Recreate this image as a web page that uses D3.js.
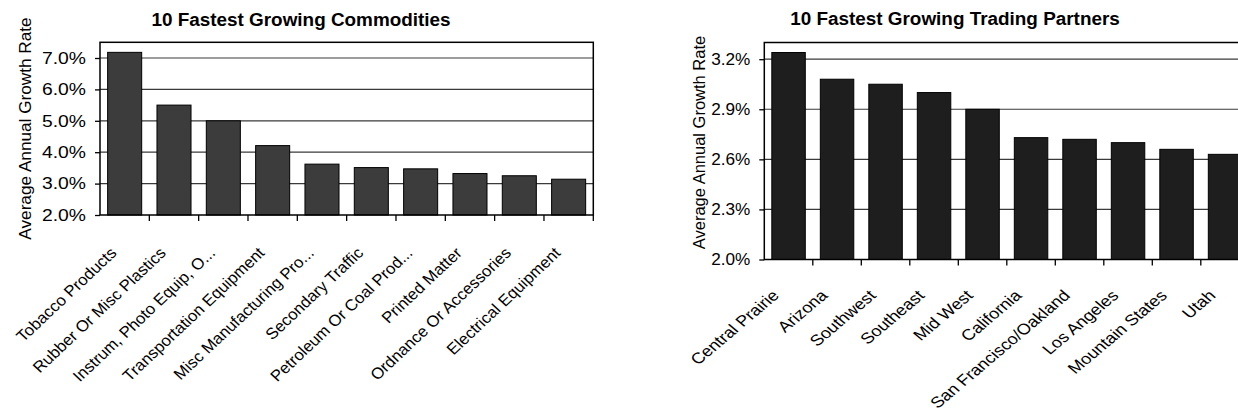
<!DOCTYPE html>
<html>
<head>
<meta charset="utf-8">
<script src="https://cdn.jsdelivr.net/npm/d3@7"></script>
<style>
  html, body { margin: 0; padding: 0; background: #fff; }
  svg { display: block; }
  text { font-family: "Liberation Sans", Arial, sans-serif; fill: #000; }
</style>
</head>
<body>
<svg id="chart" width="1238" height="414"></svg>
<script>
// ---- data ----
const commodityTitle = "10 Fastest Growing Commodities";
const commodities = ["Tobacco Products", "Rubber Or Misc Plastics", "Instrum, Photo Equip, O...",
  "Transportation Equipment", "Misc Manufacturing Pro...", "Secondary Traffic",
  "Petroleum Or Coal Prod...", "Printed Matter", "Ordnance Or Accessories", "Electrical Equipment"];
const commodityRates = [7.18, 5.50, 5.00, 4.21, 3.62, 3.51, 3.47, 3.32, 3.25, 3.14];
const commodityTicks = [2.0, 3.0, 4.0, 5.0, 6.0, 7.0];
const commodityDomain = [2.0, 7.5];

const partnerTitle = "10 Fastest Growing Trading Partners";
const partners = ["Central Prairie", "Arizona", "Southwest", "Southeast", "Mid West", "California",
  "San Francisco/Oakland", "Los Angeles", "Mountain States", "Utah"];
const partnerRates = [3.24, 3.08, 3.05, 3.00, 2.90, 2.73, 2.72, 2.70, 2.66, 2.63];
const partnerTicks = [2.0, 2.3, 2.6, 2.9, 3.2];
const partnerDomain = [2.0, 3.3];

const yAxisTitle = "Average Annual Growth Rate";

const svg = d3.select("#chart");

function drawChart(o) {
  const g = svg.append("g");
  const x = d3.scaleBand().domain(o.cats).range([o.x0, o.x1]).paddingInner(0.31).paddingOuter(0.155);
  const y = d3.scaleLinear().domain(o.domain).range([o.y1, o.y0]);

  // gridlines
  g.append("g").selectAll("line").data(o.ticks.filter(t => t > o.domain[0]))
    .join("line")
    .attr("x1", o.x0).attr("x2", o.x1)
    .attr("y1", d => y(d)).attr("y2", d => y(d))
    .attr("stroke", "#3a3a3a").attr("stroke-width", 1.2);

  // bars
  g.append("g").selectAll("rect").data(o.vals)
    .join("rect")
    .attr("x", (d, i) => x(o.cats[i]))
    .attr("width", x.bandwidth())
    .attr("y", d => y(d))
    .attr("height", d => y(o.domain[0]) - y(d))
    .attr("fill", o.barFill)
    .attr("stroke", "#000").attr("stroke-width", 1);

  // frame
  g.append("rect")
    .attr("x", o.x0).attr("y", o.y0)
    .attr("width", o.x1 - o.x0).attr("height", o.y1 - o.y0)
    .attr("fill", "none").attr("stroke", "#000").attr("stroke-width", 1.5);

  // y axis
  const yAxis = d3.axisLeft(y).tickValues(o.ticks).tickSize(5).tickPadding(9)
    .tickFormat(d => d3.format(".1f")(d) + "%");
  const ya = g.append("g").attr("transform", `translate(${o.x0},0)`).call(yAxis);
  ya.select(".domain").remove();
  ya.selectAll("line").attr("stroke", "#000").attr("stroke-width", 1.3);
  ya.selectAll("text").attr("font-size", o.tickFont).attr("fill", "#000")
    .style("font-family", '"Liberation Sans", Arial, sans-serif')
    .each(function () {
      const w = this.getComputedTextLength();
      d3.select(this).attr("textLength", w * o.tickStretch).attr("lengthAdjust", "spacingAndGlyphs");
    });

  // x axis (tick marks at band boundaries)
  const step = x.step();
  const bounds = d3.range(1, o.cats.length + 1).map(i => o.x0 + i * step);
  g.append("g").selectAll("line").data(bounds).join("line")
    .attr("x1", d => d).attr("x2", d => d)
    .attr("y1", o.y1).attr("y2", o.y1 + 6)
    .attr("stroke", "#000").attr("stroke-width", 1.3);

  // category labels
  g.append("g").selectAll("text").data(o.cats).join("text")
    .attr("transform", d => `translate(${x(d) + x.bandwidth() / 2 + o.labDx},${o.y1 + o.labDy}) scale(${o.labSx},${o.labSy}) rotate(-45)`)
    .attr("text-anchor", "end")
    .attr("font-size", o.labFont)
    .text(d => d);

  // title
  g.append("text")
    .attr("x", o.titleX).attr("y", o.titleY)
    .attr("text-anchor", "middle")
    .attr("font-size", 18.9).attr("font-weight", "bold")
    .text(o.title);

  // y axis title
  g.append("text")
    .attr("transform", `translate(${o.yTitleX},${o.yTitleY}) rotate(-90)`)
    .attr("text-anchor", "middle")
    .attr("font-size", o.yTitleFont)
    .text(yAxisTitle);
}

drawChart({
  cats: commodities, vals: commodityRates, ticks: commodityTicks, domain: commodityDomain,
  title: commodityTitle,
  x0: 100, x1: 593.3, y0: 42.3, y1: 215,
  barFill: "#3c3c3c", tickFont: 16.5, tickStretch: 1.17,
  labFont: 16.3, labDx: -7, labDy: 39, labSx: 1.03, labSy: 0.97,
  titleX: 301, titleY: 26, yTitleX: 31, yTitleY: 128.5, yTitleFont: 17.2
});

drawChart({
  cats: partners, vals: partnerRates, ticks: partnerTicks, domain: partnerDomain,
  title: partnerTitle,
  x0: 764.3, x1: 1249.3, y0: 42.5, y1: 259.5,
  barFill: "#1e1e1e", tickFont: 16.5, tickStretch: 1.04,
  labFont: 16.5, labDx: -8.5, labDy: 37, labSx: 1.1, labSy: 0.93,
  titleX: 955, titleY: 24.5, yTitleX: 705, yTitleY: 142.5, yTitleFont: 16.5
});
</script>
</body>
</html>
